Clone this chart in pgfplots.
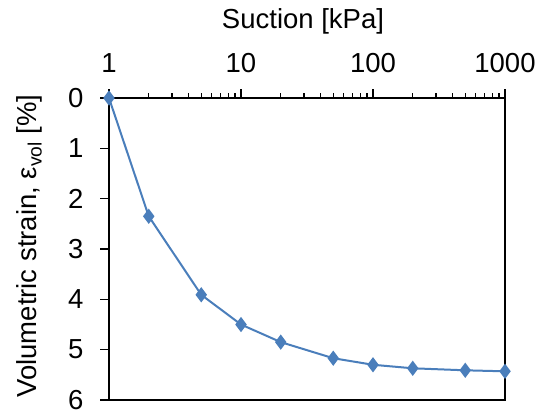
\documentclass[border=0pt]{standalone}
\usepackage{pgfplots}
\pgfplotsset{compat=1.18}
\usepackage{fontspec}
\setmainfont{Liberation Sans}
\definecolor{serblue}{HTML}{4A7EBB}
\begin{document}
\begin{tikzpicture}
\path[use as bounding box] (-109bp,-12bp) rectangle (429bp,400bp);
\begin{axis}[
  at={(0,0)}, anchor=south west,
  scale only axis, width=396bp, height=302bp,
  xmode=log, xmin=1, xmax=1000,
  ymin=0, ymax=6, y dir=reverse,
  xtick={1,10,100,1000}, xticklabels={1,10,100,1000},
  minor xtick={2,3,4,5,6,7,8,9,20,30,40,50,60,70,80,90,200,300,400,500,600,700,800,900},
  ytick={0,1,2,3,4,5,6},
  xtick pos=right, xticklabel pos=right,
  ytick pos=left,
  tick align=outside,
  major tick length=9bp, minor tick length=5bp,
  every tick/.style={black, line width=1.2bp},
  axis line style={black, line width=1.3bp},
  font=\fontsize{27.5bp}{33bp}\selectfont,
  /pgf/number format/assume math mode=true,
  xticklabel style={yshift=13bp},
  yticklabel style={xshift=-13bp},
  xlabel={Suction [kPa]},
  ylabel={Volumetric strain, ε\textsubscript{vol} [\%]},
  every axis x label/.style={at={(axis description cs:0.5,1)}, anchor=base, yshift=70bp, xshift=-4bp},
  every axis y label/.style={at={(axis description cs:0,0.5)}, rotate=90, anchor=center, xshift=3bp, yshift=80bp},
  clip=false,
]
\addplot[serblue, line width=2bp, mark=diamond*, mark size=6bp, mark options={solid, fill=serblue}]
coordinates {
(1,0) (2,2.35) (5,3.91) (10,4.5) (20,4.85) (50,5.17) (100,5.30) (200,5.37) (500,5.41) (1000,5.43)
};
\end{axis}
\end{tikzpicture}
\end{document}
